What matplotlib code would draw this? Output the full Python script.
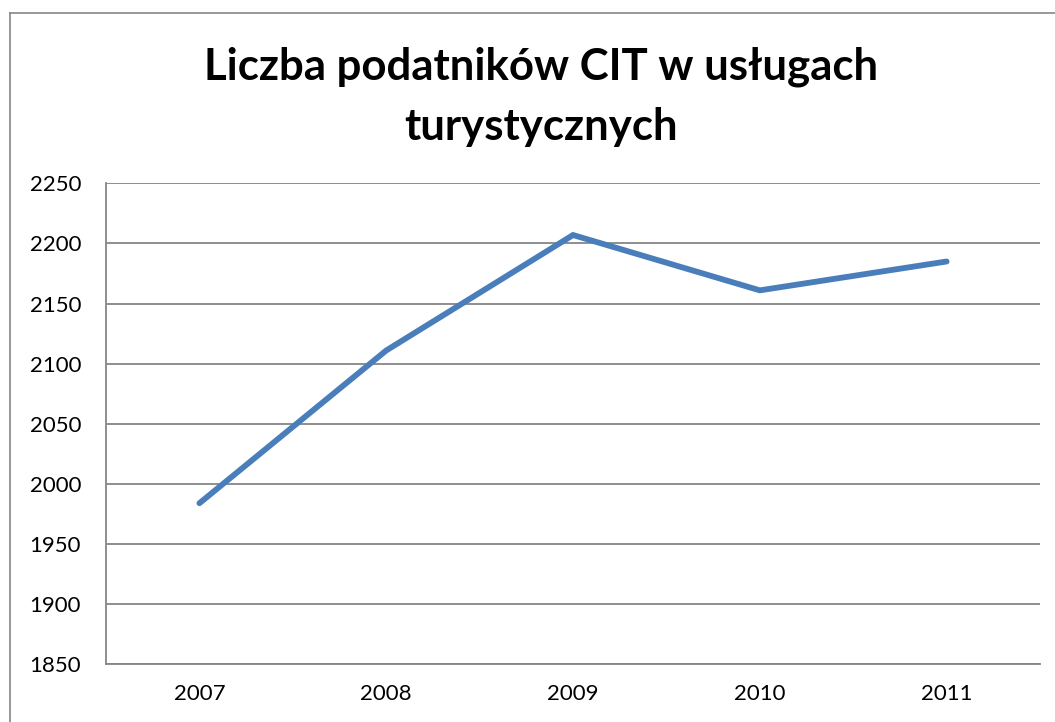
import matplotlib.pyplot as plt
from matplotlib.lines import Line2D

# -----------------------------
# Dane
# -----------------------------
lata = ["2007", "2008", "2009", "2010", "2011"]
podatnicy = [1984, 2111, 2207, 2161, 2185]
y_ticks = [1850, 1900, 1950, 2000, 2050, 2100, 2150, 2200, 2250]

plt.rcParams['font.family'] = ['Lato', 'DejaVu Sans']

fig = plt.figure(figsize=(10.55, 7.22), dpi=100)
ax = fig.add_axes([0.1005, 0.0798, 0.8853, 0.6663])

szary = '#868686'

x = list(range(len(lata)))
ax.plot(x, podatnicy, color='#4A7EBB', linewidth=4.2, solid_capstyle='round',
        solid_joinstyle='miter')

ax.set_xlim(-0.5, len(lata) - 0.5)
ax.set_ylim(1850, 2250)
ax.set_yticks(y_ticks)
ax.set_xticks(x)
ax.set_xticklabels(lata)

ax.grid(axis='y', color=szary, linewidth=1.3)
ax.set_axisbelow(True)
for s in ['top', 'right']:
    ax.spines[s].set_visible(False)
for s in ['left', 'bottom']:
    ax.spines[s].set_color(szary)
    ax.spines[s].set_linewidth(1.3)
ax.tick_params(axis='both', length=0, labelsize=16, colors='black')
ax.tick_params(axis='y', pad=18)
ax.tick_params(axis='x', pad=14)

# tytuł
fig.text(0.513, 0.866, "Liczba podatników CIT w usługach\nturystycznych",
         ha='center', va='center', fontsize=31.5, fontweight='bold',
         linespacing=1.62)

# ramka wykresu
fig.add_artist(Line2D([10/1055, 10/1055], [0, 1 - 13/722], color=szary, linewidth=1.2))
fig.add_artist(Line2D([10/1055, 1], [1 - 13/722, 1 - 13/722], color=szary, linewidth=1.2))

fig.savefig('out.png', dpi=100)
